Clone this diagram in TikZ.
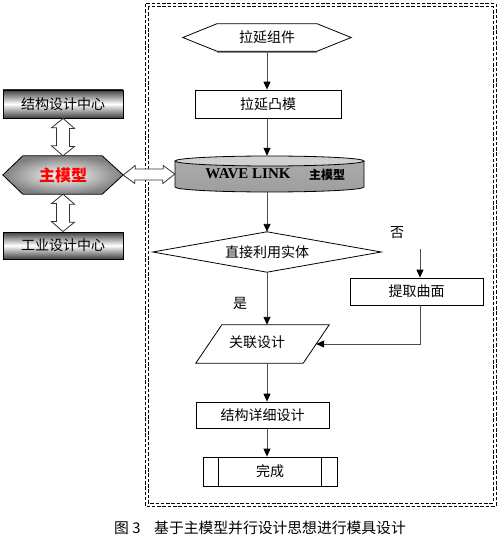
\documentclass[tikz,border=0pt]{standalone}
\usepackage{fontspec}
\setmainfont{Liberation Serif}
\newfontfamily\cjk{Noto Sans CJK SC}
\usetikzlibrary{arrows.meta,calc}
\begin{document}
\begin{tikzpicture}[x=1pt,y=-1pt,
  txt/.style={font=\cjk\fontsize{14}{16}\selectfont, inner sep=0pt},
  area/.style={txt, minimum width=#1, inner sep=0pt},
  rect/.style={txt, draw=black, line width=0.8pt, fill=white},
  grad/.style={txt, draw=black, line width=0.9pt, top color=black!75, bottom color=black!75, middle color=white},
  shp/.style={draw=black, line width=0.8pt},
  arr/.style={draw=black!70, line width=0.9pt, -{Triangle[length=8pt,width=7pt,color=black]}},
  hollow/.style={draw=black!80, line width=0.8pt, fill=white},
  frame/.style={draw=black, line width=1pt, dash pattern=on 3.5pt off 1.8pt},
  captext/.style={font=\cjk\fontsize{14.8}{16}\selectfont, inner sep=0pt}]
\useasboundingbox (0,0) rectangle (501,537);
\fill[white] (0,0) rectangle (501,537);

% dashed double frame
\draw[frame] (145,4) rectangle (496,506);
\draw[frame] (148,7) rectangle (493,503);

% top hexagon
\node[area=168pt, minimum height=27pt] (zj) at (267,37.5) {拉延组件};
\draw[black!45, line width=1.5pt] ($(zj.south east)+(-34,1)$) -- ($(zj.south west)+(34,1)$);
\draw[shp] (zj.west) -- ($(zj.north west)+(34,0)$) -- ($(zj.north east)+(-34,0)$) -- (zj.east)
  -- ($(zj.south east)+(-34,0)$) -- ($(zj.south west)+(34,0)$) -- cycle;

% rectangle
\node[rect, minimum width=146pt, minimum height=28pt] (tm) at (268,104) {拉延凸模};

% cylinder
\node[area=189pt, minimum height=36pt] (cyl) at (269.5,174) {};
\shade[top color=black!33, middle color=black!14, bottom color=black!38]
  (175,161) -- (175,187) arc[start angle=180, end angle=360, x radius=94.5pt, y radius=5pt] -- (364,161) -- cycle;
\draw[shp] (175,161) -- (175,187) arc[start angle=180, end angle=360, x radius=94.5pt, y radius=5pt] -- (364,161);
\draw[shp, fill=black!18] (269.5,161) ellipse [x radius=94.5pt, y radius=5pt];
\node[font=\bfseries\fontsize{15}{17}\selectfont, inner sep=0pt] (cyltxt) at (248,173.5) {WAVE LINK};
\node[font=\cjk\bfseries\fontsize{12}{14}\selectfont, inner sep=0pt] (cyltxt2) at (327,174.5) {主模型};

% diamond
\node[area=228pt, minimum height=40pt] (dm) at (267,252) {直接利用实体};
\draw[shp] (dm.west) -- (dm.north) -- (dm.east) -- (dm.south) -- cycle;

% labels
\node[txt] (no) at (397,233) {否};
\node[txt] (yes) at (240,303) {是};
\coordinate (nstart) at (420,249);

% extract surface
\node[rect, minimum width=133pt, minimum height=27pt] (tq) at (416.5,291.5) {提取曲面};

% parallelogram
\node[area=133pt, minimum height=38pt] (gl) at (262.5,344) {};
\draw[shp] (gl.south west) -- ($(gl.north west)+(26,0)$) -- (gl.north east)
  -- ($(gl.south east)+(-26,0)$) -- cycle;
\node[txt] (gltxt) at (257,342) {关联设计};

% detail design
\node[rect, minimum width=133pt, minimum height=26pt] (xx) at (262.5,415) {结构详细设计};

% finish (predefined process)
\node[rect, minimum width=134pt, minimum height=29pt] (wc) at (270,471.5) {完成};
\draw[shp] ($(wc.north west)+(16,0)$) -- ($(wc.south west)+(16,0)$);
\draw[shp] ($(wc.north east)+(-16,0)$) -- ($(wc.south east)+(-16,0)$);

% connectors
\draw[arr] (zj.south) -- (zj.south |- tm.north);
\draw[arr] (zj.south |- tm.south) -- (zj.south |- cyl.north);
\draw[arr] (zj.south |- cyl.south) -- (dm.north);
\draw[arr] (dm.south) -- (dm.south |- gl.north);
\draw[arr] (nstart) -- (nstart |- tq.north);
\draw[arr] (nstart |- tq.south) -- (nstart |- gl.east) -- ($(gl.east)+(-13,0)$);
\draw[arr] (dm.south |- gl.south) -- (dm.south |- xx.north);
\draw[arr] (dm.south |- xx.south) -- (dm.south |- wc.north);

% left side
\node[grad, minimum width=120pt, minimum height=28pt] (jg) at (63,104) {结构设计中心};
\node[area=120pt, minimum height=38pt] (zm) at (63,175) {};
\shade[inner color=white, outer color=black!50, draw=black, line width=0.8pt]
  (zm.west) -- ($(zm.north west)+(20,0)$) -- ($(zm.north east)+(-21,0)$) -- (zm.east)
  -- ($(zm.south east)+(-21,0)$) -- ($(zm.south west)+(20,0)$) -- cycle;
\node[font=\cjk\bfseries\fontsize{16}{18}\selectfont, text=red, inner sep=0pt] (zmtxt) at (63,175) {主模型};
\node[grad, minimum width=120pt, minimum height=27pt] (gy) at (63,245.5) {工业设计中心};

% hollow double arrows
\draw[hollow] (jg.south) -- ++(11.5,10) -- ++(-5,0) -- ++(0,18) -- ++(5,0) -- (zm.north)
  -- ++(-11.5,-10) -- ++(5,0) -- ++(0,-18) -- ++(-5,0) -- cycle;
\draw[hollow] (zm.south) -- ++(11.5,10) -- ++(-5,0) -- ++(0,18) -- ++(5,0) -- (gy.north)
  -- ++(-11.5,-10) -- ++(5,0) -- ++(0,-18) -- ++(-5,0) -- cycle;
\draw[hollow] (zm.east) -- ++(12,-9.5) -- ++(0,3.5) -- ++(28,0) -- ++(0,-3.5) -- (cyl.west)
  -- ++(-12,9.5) -- ++(0,-3.5) -- ++(-28,0) -- ++(0,3.5) -- cycle;

% caption
\node[captext, anchor=west] (fig) at (114,528) {图 3};
\node[captext, anchor=west] (captxt) at (154,528) {基于主模型并行设计思想进行模具设计};
\end{tikzpicture}
\end{document}
